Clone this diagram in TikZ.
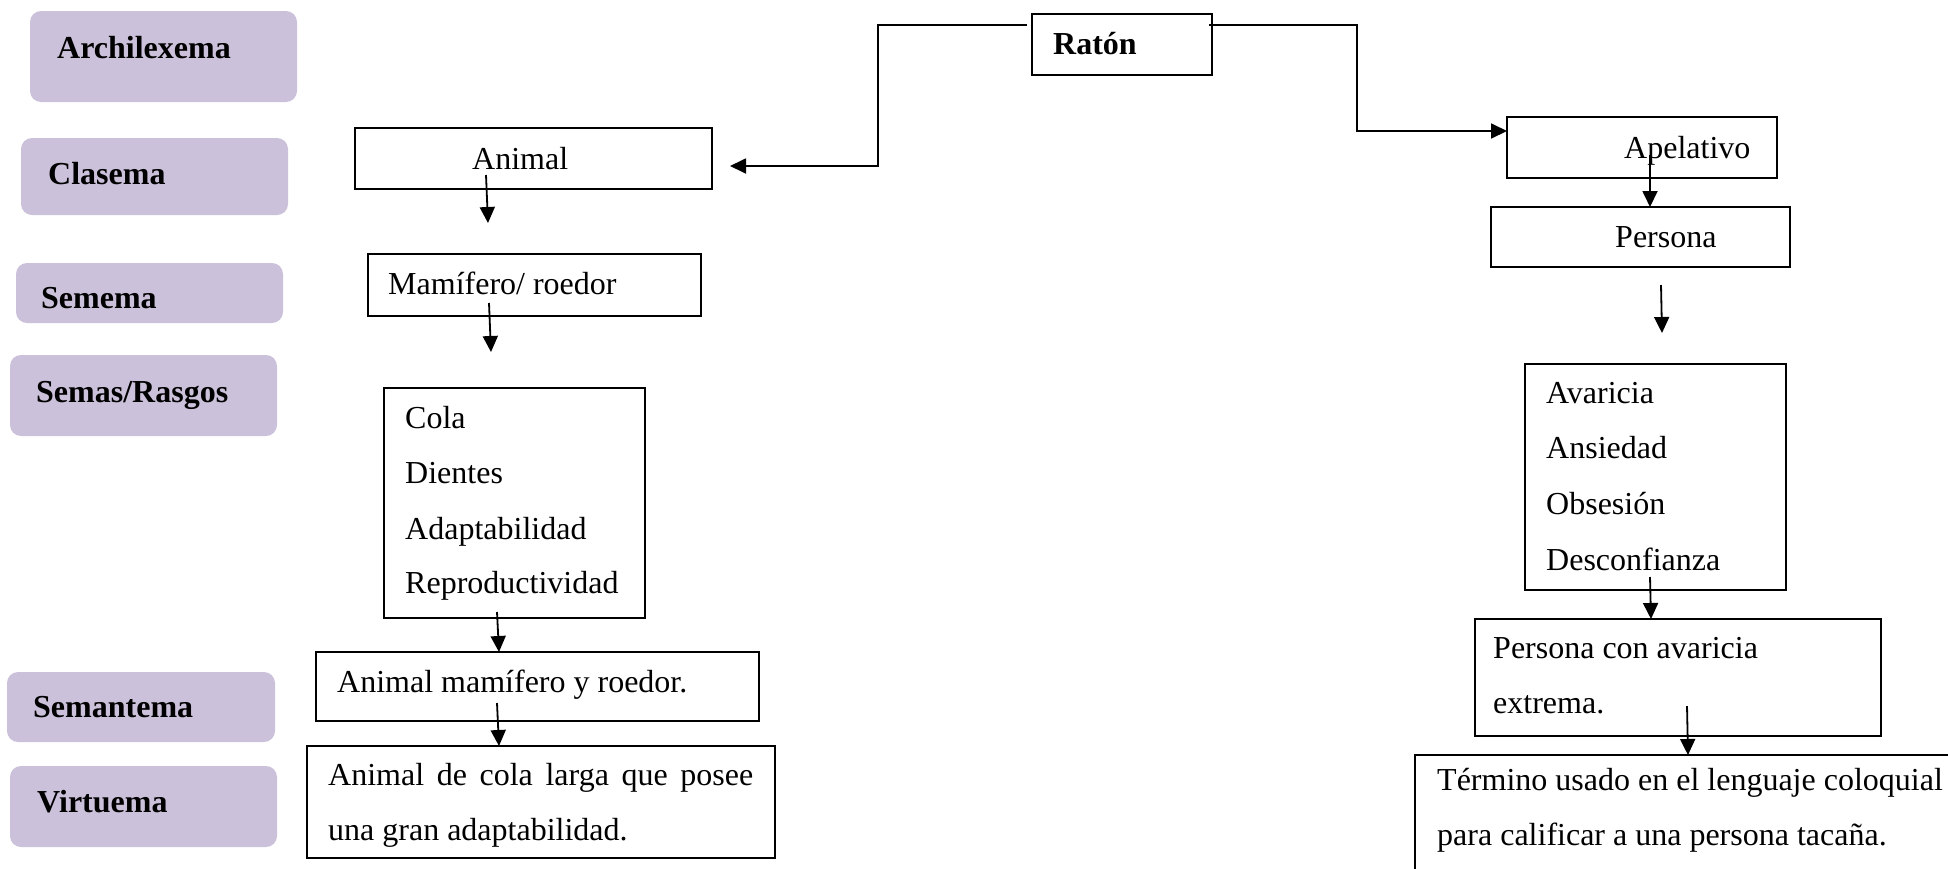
\documentclass[tikz,border=0pt]{standalone}
\usepackage{fontspec}
\setmainfont{Liberation Serif}
\usetikzlibrary{arrows.meta}
\definecolor{lilac}{RGB}{204,193,218}
\tikzset{
  box/.style={draw=black, line width=1.3pt, fill=white, anchor=north west, inner sep=0pt, outer sep=0pt},
  tag/.style={fill=lilac, rounded corners=11pt, anchor=north west, inner sep=0pt, outer sep=0pt},
  txt/.style={anchor=base west, inner sep=0pt, font=\fontsize{32}{38}\selectfont},
  btxt/.style={anchor=base west, inner sep=0pt, font=\fontsize{32}{38}\selectfont\bfseries},
  arr/.style={draw=black, line width=1.8pt, -{Triangle[length=16pt,width=15pt]}},
  ln/.style={draw=black, line width=1.8pt}
}
\begin{document}
\begin{tikzpicture}[x=1pt,y=-1pt]
\useasboundingbox (0,0) rectangle (1948,868);
\clip (0,0) rectangle (1948,868);
\fill[white] (0,0) rectangle (1948,868);

% purple tags
\node[tag, minimum width=267pt, minimum height=91pt] (tarch) at (30,11) {};
\node[btxt] (larch) at (57,58) {Archilexema};
\node[tag, minimum width=267pt, minimum height=77pt] (tclas) at (21,138) {};
\node[btxt] (lclas) at (48,184) {Clasema};
\node[tag, minimum width=267pt, minimum height=60pt] (tseme) at (16,263) {};
\node[btxt] (lseme) at (41,308) {Semema};
\node[tag, minimum width=267pt, minimum height=81pt] (tsemas) at (10,355) {};
\node[btxt] (lsemas) at (36,402) {Semas/Rasgos};
\node[tag, minimum width=268pt, minimum height=70pt] (tsemant) at (7,672) {};
\node[btxt] (lsemant) at (33,717) {Semantema};
\node[tag, minimum width=267pt, minimum height=81pt] (tvirt) at (10,766) {};
\node[btxt] (lvirt) at (37,812) {Virtuema};

% top node
\node[box, minimum width=180pt, minimum height=61pt] (raton) at (1032,14) {};
\node[btxt] (lraton) at (1053,54) {Ratón};

% left column
\node[box, minimum width=357pt, minimum height=61pt] (animal) at (355,128) {};
\node[txt] (lanimal) at (472,169) {Animal};
\node[box, minimum width=333pt, minimum height=62pt] (mamif) at (368,254) {};
\node[txt] (lmamif) at (388,294) {Mamífero/ roedor};
\node[box, minimum width=261pt, minimum height=230pt] (semas) at (384,388) {};
\node[txt] (s1) at (405,428) {Cola};
\node[txt] (s2) at (405,483) {Dientes};
\node[txt] (s3) at (405,539) {Adaptabilidad};
\node[txt] (s4) at (405,593) {Reproductividad};
\node[box, minimum width=443pt, minimum height=69pt] (semant) at (316,652) {};
\node[txt] (lsemantb) at (337,692) {Animal mamífero y roedor.};
\node[box, minimum width=468pt, minimum height=112pt] (virt) at (307,746) {};
\node[txt] (v1) at (328,785) {\makebox[425pt][s]{Animal de cola larga que posee}};
\node[txt] (v2) at (328,840) {una gran adaptabilidad.};

% right column
\node[box, minimum width=270pt, minimum height=61pt] (apel) at (1507,117) {};
\node[txt] (lapel) at (1624,158) {Apelativo};
\node[box, minimum width=299pt, minimum height=60pt] (pers) at (1491,207) {};
\node[txt] (lpers) at (1615,247) {Persona};
\node[box, minimum width=261pt, minimum height=226pt] (rasg) at (1525,364) {};
\node[txt] (r1) at (1546,403) {Avaricia};
\node[txt] (r2) at (1546,458) {Ansiedad};
\node[txt] (r3) at (1546,514) {Obsesión};
\node[txt] (r4) at (1546,570) {Desconfianza};
\node[box, minimum width=406pt, minimum height=117pt] (pca) at (1475,619) {};
\node[txt] (p1) at (1493,658) {Persona con avaricia};
\node[txt] (p2) at (1493,713) {extrema.};
\node[box, minimum width=560pt, minimum height=140pt] (term) at (1415,755) {};
\node[txt] (t1) at (1437,790) {Término usado en el lenguaje coloquial};
\node[txt] (t2) at (1437,845) {para calificar a una persona tacaña.};

% connectors
\coordinate (rl) at (1027,25);
\coordinate (rr) at (1209,25);
\coordinate (al) at (730,166);
\draw[arr] (rl) -- (878,25) -- (878,166) -- (al);
\draw[arr] (rr) -- (1357,25) -- (1357,131) -- (apel.west |- 0,131);

\coordinate (a1) at (486,175); \coordinate (b1) at (488,223);
\draw[arr] (a1) -- (b1);
\coordinate (a2) at (489,303); \coordinate (b2) at (491,352);
\draw[arr] (a2) -- (b2);
\coordinate (a3) at (497,612);
\draw[arr] (a3) -- (semant.north -| 499,0);
\coordinate (a4) at (497,703);
\draw[arr] (a4) -- (virt.north -| 499,0);
\coordinate (a5) at (1650,155);
\draw[arr] (a5) -- (pers.north -| 1650,0);
\coordinate (a6) at (1661,285); \coordinate (b6) at (1662,333);
\draw[arr] (a6) -- (b6);
\coordinate (a7) at (1650,577);
\draw[arr] (a7) -- (pca.north -| 1651,0);
\coordinate (a8) at (1687,706);
\draw[arr] (a8) -- (term.north -| 1688,0);
\end{tikzpicture}
\end{document}
